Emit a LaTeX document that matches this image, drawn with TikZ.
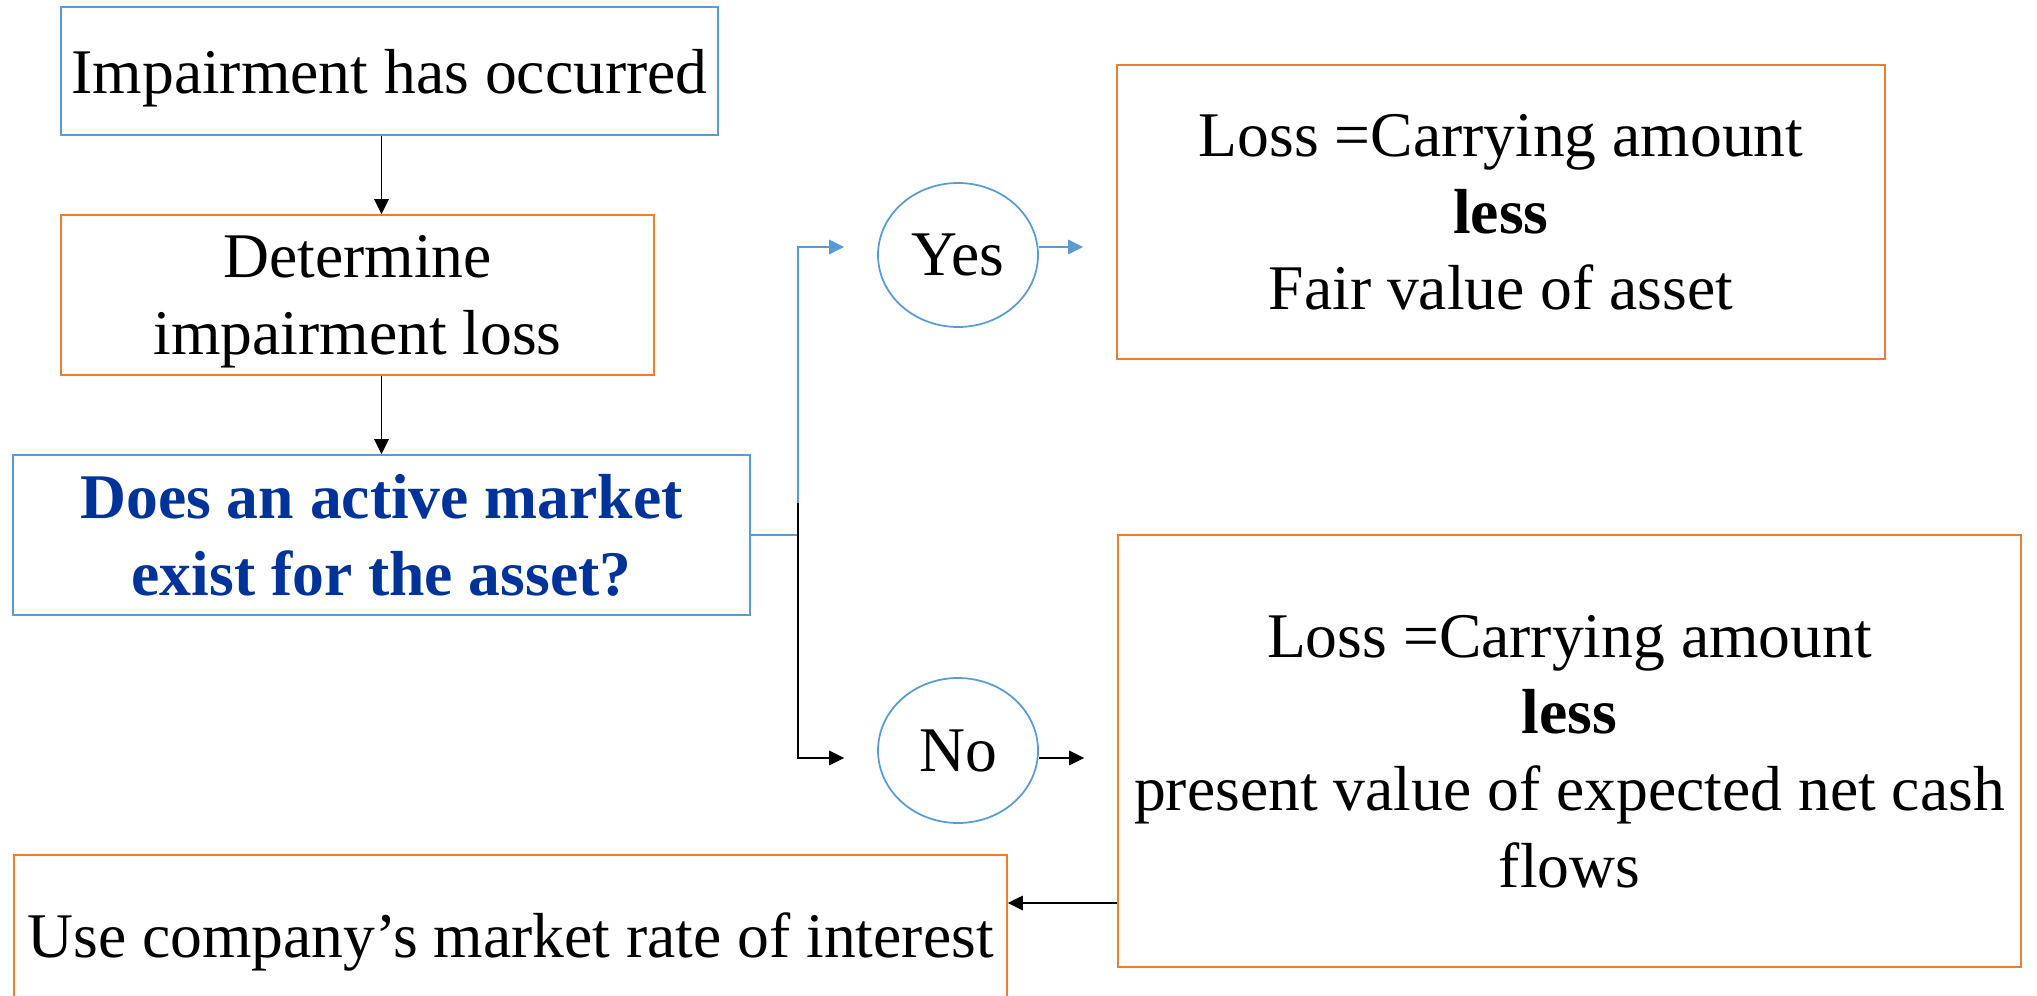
\documentclass[tikz,border=0pt]{standalone}
\usepackage{fontspec}
\setmainfont{Liberation Serif}
\usetikzlibrary{arrows.meta,shapes.geometric}
\definecolor{boxblue}{RGB}{91,155,213}
\definecolor{boxorange}{RGB}{237,125,49}
\definecolor{qblue}{RGB}{0,51,153}
\begin{document}
\begin{tikzpicture}[x=0.1mm,y=-0.1mm,
  every node/.style={font=\fontsize{18.1}{21.8}\selectfont, text depth=0pt,
                     inner sep=0pt, align=center},
  bluebox/.style={draw=boxblue, line width=0.5pt, rectangle},
  orangebox/.style={draw=boxorange, line width=0.5pt, rectangle},
  answer/.style={draw=boxblue, line width=0.5pt, ellipse},
  link/.style={line width=0.45pt, -{Triangle[length=1.5mm,width=1.45mm]}},
  bluelink/.style={link, draw=boxblue},
]
\useasboundingbox (0,0) rectangle (2037,995);
\clip (0,0) rectangle (2037,995);

% left column: the decision steps
\node[bluebox, minimum width=65.7mm, minimum height=12.8mm] (occur) at (389.5,71)
  {Impairment has occurred};
\node[orangebox, minimum width=59.3mm, minimum height=16mm] (determine) at (357.5,295)
  {Determine\\impairment loss};
\node[bluebox, minimum width=73.7mm, minimum height=16mm, text=qblue,
      font=\fontsize{18.1}{21.8}\selectfont\bfseries] (market) at (381.5,535)
  {Does an active market\\exist for the asset?};

% answers
\node[answer, minimum width=16mm, minimum height=14.4mm] (yes) at (958,255) {Yes};
\node[answer, minimum width=16mm, minimum height=14.5mm] (no) at (958,750.5) {No};

% outcomes
\node[orangebox, minimum width=76.8mm, minimum height=29.4mm] (fairloss) at (1501,212)
  {Loss =Carrying amount\\\textbf{less}\\Fair value of asset};
\node[orangebox, minimum width=90.3mm, minimum height=43.2mm] (pvloss) at (1569.5,751)
  {Loss =Carrying amount\\\textbf{less}\\present value of expected net cash\\flows};
\node[orangebox, minimum width=99.3mm, minimum height=16.1mm] (rate) at (510.5,935.5)
  {Use company’s market rate of interest};

% routing points
\coordinate (split) at (798,535);
\coordinate (branch) at (798,503);
\coordinate (yeslevel) at (0,247);
\coordinate (nolevel) at (0,758);
\coordinate (ratelevel) at (0,903);

% connectors
\draw[link] (occur.south -| market.north) -- (determine.north -| market.north);
\draw[link] (determine.south -| market.north) -- (market.north);
\draw[bluelink, shorten >=3.3mm] (market.east) -- (split) |- (yes.west |- yeslevel);
\draw[link, shorten >=3.3mm] (branch) |- (no.west |- nolevel);
\draw[bluelink, shorten >=3.3mm] (yes.east |- yeslevel) -- (fairloss.west |- yeslevel);
\draw[link, shorten >=3.3mm] (no.east |- nolevel) -- (pvloss.west |- nolevel);
\draw[link] (pvloss.west |- ratelevel) -- (rate.east |- ratelevel);
\end{tikzpicture}
\end{document}
